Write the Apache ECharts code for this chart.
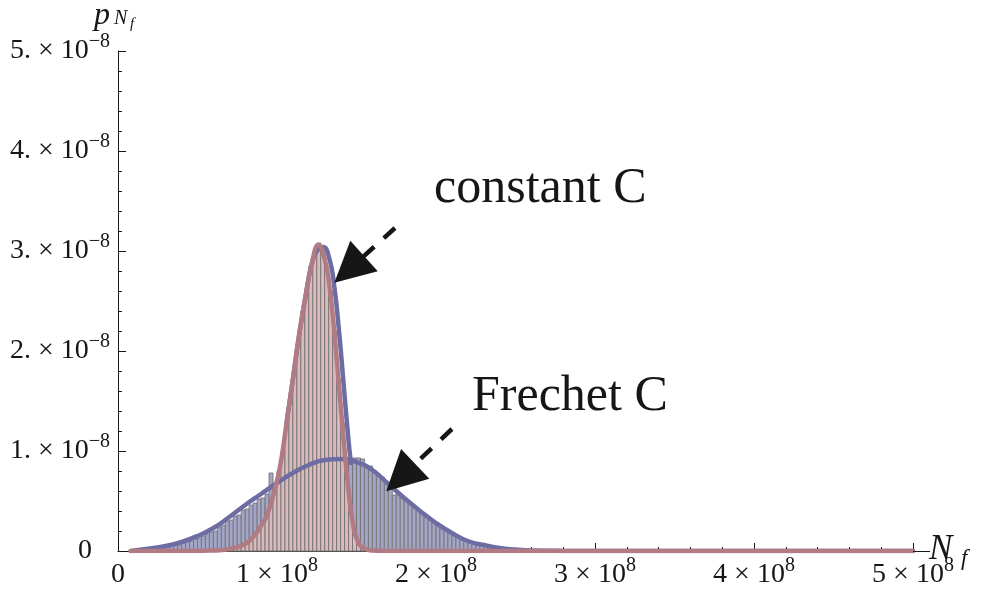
<!DOCTYPE html>
<html>
<head>
<meta charset="utf-8">
<script src="https://cdn.jsdelivr.net/npm/echarts@6/dist/echarts.min.js"></script>
<style>
html, body { margin: 0; padding: 0; background: #ffffff; }
#chart { width: 985px; height: 591px; }
</style>
</head>
<body>
<div id="chart"></div>
<script>
// N_f in units of 1e8, density p in units of 1e-8
const binWidth = 0.025;

// Histogram: Frechet-distributed C
const frechetBinStart = 0.15;
const frechetHeights = [
  0.01, 0.02, 0.02, 0.03, 0.03, 0.04, 0.04, 0.05, 0.06, 0.06,
  0.08, 0.09, 0.10, 0.12, 0.13, 0.15, 0.17, 0.19, 0.20, 0.24,
  0.26, 0.30, 0.31, 0.35, 0.36, 0.41, 0.42, 0.46, 0.48, 0.52,
  0.53, 0.57, 0.78, 0.62, 0.66, 0.68, 0.71, 0.73, 0.76, 0.78,
  0.80, 0.82, 0.84, 0.86, 0.88, 0.89, 0.90, 0.91, 0.91, 0.92,
  0.92, 0.93, 0.91, 0.93, 0.93, 0.92, 0.84, 0.85, 0.80, 0.76,
  0.74, 0.70, 0.66, 0.56, 0.59, 0.55, 0.51, 0.48, 0.45, 0.41,
  0.38, 0.35, 0.31, 0.29, 0.26, 0.23, 0.21, 0.18, 0.16, 0.14,
  0.12, 0.10, 0.09, 0.08, 0.06, 0.05, 0.05, 0.04, 0.03, 0.03,
  0.02, 0.02, 0.015, 0.01, 0.01, 0.005, 0.005, 0.003
];

// Histogram: constant C
const constantBinStart = 0.70;
const constantHeights = [
  0.02, 0.03, 0.05, 0.07, 0.10, 0.13, 0.18, 0.24, 0.30, 0.38,
  0.50, 0.64, 0.80, 1.00, 1.26, 1.55, 1.84, 2.12, 2.40, 2.62,
  2.85, 2.98, 3.08, 3.00, 2.84, 2.60, 2.20, 1.72, 1.28, 0.76,
  0.42, 0.17, 0.06, 0.01
];

// Density curves
const frechetCurveX = [0.08, 0.2, 0.3, 0.4, 0.5, 0.6, 0.7, 0.8, 0.9, 1.0, 1.1, 1.2, 1.3, 1.4, 1.5,
  1.6, 1.7, 1.8, 1.9, 2.0, 2.1, 2.2, 2.3, 2.4, 2.5, 2.6, 2.8, 3.0, 5.0];
const frechetCurveY = [0, 0.025, 0.05, 0.09, 0.15, 0.23, 0.34, 0.46, 0.57, 0.68, 0.78, 0.86, 0.91, 0.92, 0.89,
  0.81, 0.67, 0.53, 0.40, 0.28, 0.18, 0.10, 0.06, 0.03, 0.015, 0.006, 0.001, 0, 0];

const constantCurveX = [0.08, 0.4, 0.6, 0.7, 0.8, 0.86, 0.9, 0.94, 0.98, 1.02, 1.06, 1.10, 1.14, 1.18, 1.22,
  1.26, 1.30, 1.33, 1.36, 1.39, 1.42, 1.45, 1.48, 1.51, 1.55, 1.6, 1.7, 5.0];
const constantCurveY = [0, 0.001, 0.005, 0.02, 0.07, 0.16, 0.25, 0.37, 0.58, 0.85, 1.28, 1.72, 2.17, 2.55, 2.88,
  3.06, 2.92, 2.65, 2.20, 1.65, 1.10, 0.60, 0.25, 0.09, 0.025, 0.005, 0, 0];

const constantFitX = [1.06, 1.10, 1.14, 1.18, 1.22, 1.26, 1.29, 1.33, 1.36, 1.39, 1.42, 1.45, 1.465];
const constantFitY = [1.28, 1.72, 2.17, 2.55, 2.88, 3.02, 3.04, 2.92, 2.65, 2.20, 1.65, 1.10, 0.88];

// Tick labels
const xTickMantissas = ['0', '1', '2', '3', '4', '5'];
const xTickExponent = '8';
const yTickMantissas = ['0', '1.', '2.', '3.', '4.', '5.'];
const yTickExponent = '\u22128';

// Annotation arrows: [start, end] in data units
const arrowConstant = [[1.742, 3.23], [1.454, 2.817]];
const arrowFrechet = [[2.10, 1.22], [1.778, 0.734]];

const SERIF = 'Liberation Serif, Times New Roman, serif';
const INK = '#161616';
const BLUE_FILL = '#a4a5c7';
const PINK_FILL = '#dbbabd';
const BAR_EDGE = '#747474';
const BLUE_LINE = '#6d6da3';
const PINK_LINE = '#b27b84';

function binData(start, heights) {
  return heights.map((h, i) => [start + i * binWidth, start + (i + 1) * binWidth, h]);
}
function pairs(xs, ys) { return xs.map((x, i) => [x, ys[i]]); }

function histSeries(name, data, fill, z) {
  return {
    name, type: 'custom', z, silent: true,
    data,
    encode: { x: [0, 1], y: 2 },
    renderItem: function (params, api) {
      const a = api.coord([api.value(0), api.value(2)]);
      const b = api.coord([api.value(1), 0]);
      return {
        type: 'rect',
        shape: { x: a[0], y: a[1], width: b[0] - a[0], height: b[1] - a[1] },
        style: { fill: fill, stroke: BAR_EDGE, lineWidth: 0.9 }
      };
    }
  };
}

function curveSeries(name, data, color, z, extra) {
  return Object.assign({
    name, type: 'line', z, silent: true,
    data, smooth: 0.5,
    showSymbol: false, symbol: 'none',
    lineStyle: { color: color, width: 4.5, join: 'round', cap: 'round' }
  }, extra || {});
}

const baseRich = { fontFamily: SERIF, fontSize: 28, lineHeight: 32, color: INK };
const supRich = { fontFamily: SERIF, fontSize: 20, height: 14, verticalAlign: 'top', color: INK };

const chart = echarts.init(document.getElementById('chart'), null, { renderer: 'canvas' });

const option = {
  animation: false,
  backgroundColor: '#ffffff',
  grid: { left: 118, right: 72, top: 51, bottom: 40, containLabel: false },
  xAxis: {
    type: 'value', min: 0, max: 5, interval: 1,
    axisLine: { show: true, onZero: false, lineStyle: { color: INK, width: 1 } },
    axisTick: { show: true, inside: true, length: 8, lineStyle: { color: INK, width: 1 } },
    minorTick: { show: true, splitNumber: 5, length: 4, lineStyle: { color: INK, width: 1 } },
    splitLine: { show: false },
    axisLabel: {
      margin: 8,
      formatter: function (v) {
        const m = xTickMantissas[Math.round(v)];
        return v === 0 ? '{b|' + m + '}' : '{b|' + m + ' \u00d7 10}{s|' + xTickExponent + '}';
      },
      rich: { b: baseRich, s: supRich }
    }
  },
  yAxis: {
    type: 'value', min: 0, max: 5, interval: 1,
    axisLine: { show: true, onZero: false, lineStyle: { color: INK, width: 1 } },
    axisTick: { show: true, inside: true, length: 8, lineStyle: { color: INK, width: 1 } },
    minorTick: { show: true, splitNumber: 5, length: 4, lineStyle: { color: INK, width: 1 } },
    splitLine: { show: false },
    axisLabel: {
      margin: 8,
      formatter: function (v) {
        const m = yTickMantissas[Math.round(v)];
        return v === 0 ? '{z|' + m + '}' : '{b|' + m + ' \u00d7 10}{s|' + yTickExponent + '}';
      },
      rich: { b: baseRich, s: supRich, z: Object.assign({}, baseRich, { padding: [0, 18, 0, 0] }) }
    }
  },
  series: [
    histSeries('Frechet C', binData(frechetBinStart, frechetHeights), BLUE_FILL, 1),
    histSeries('constant C', binData(constantBinStart, constantHeights), PINK_FILL, 2),
    curveSeries('Frechet C density', pairs(frechetCurveX, frechetCurveY), BLUE_LINE, 3),
    curveSeries('constant C fit', pairs(constantFitX, constantFitY), BLUE_LINE, 3),
    curveSeries('constant C density', pairs(constantCurveX, constantCurveY), PINK_LINE, 4, {
      markLine: {
        silent: true,
        symbol: ['none', 'triangle'],
        symbolSize: [41, 40],
        label: { show: false },
        emphasis: { disabled: true },
        lineStyle: { color: INK, width: 4.5, type: [15, 13], cap: 'butt' },
        itemStyle: { color: INK },
        data: [
          [{ coord: arrowConstant[0] }, { coord: arrowConstant[1] }],
          [{ coord: arrowFrechet[0] }, { coord: arrowFrechet[1] }]
        ]
      }
    })
  ],
  graphic: [
    { type: 'text', left: 434, top: 164, style: { text: 'constant C', font: '50px ' + SERIF, fill: INK } },
    { type: 'text', left: 472, top: 372, style: { text: 'Frechet C', font: '50px ' + SERIF, fill: INK } },
    // axis names
    { type: 'text', left: 94, top: 0, style: { text: 'p', font: 'italic 32px ' + SERIF, fill: INK } },
    { type: 'text', left: 114, top: 9, style: { text: 'N', font: 'italic 20px ' + SERIF, fill: INK } },
    { type: 'text', left: 130, top: 17, style: { text: 'f', font: 'italic 15px ' + SERIF, fill: INK } },
    { type: 'text', left: 929, top: 532, style: { text: 'N', font: 'italic 35px ' + SERIF, fill: INK } },
    { type: 'text', left: 961, top: 547, style: { text: 'f', font: 'italic 23px ' + SERIF, fill: INK } }
  ]
};

chart.setOption(option);

// Extend the horizontal axis line a little past its last tick
const axisEnd = chart.convertToPixel({ gridIndex: 0 }, [5, 0]);
chart.setOption({
  graphic: option.graphic.concat([{
    type: 'line', silent: true, z: 10,
    shape: { x1: axisEnd[0], y1: axisEnd[1] + 0.5, x2: axisEnd[0] + 17, y2: axisEnd[1] + 0.5 },
    style: { stroke: INK, lineWidth: 1 }
  }])
});
</script>
</body>
</html>
